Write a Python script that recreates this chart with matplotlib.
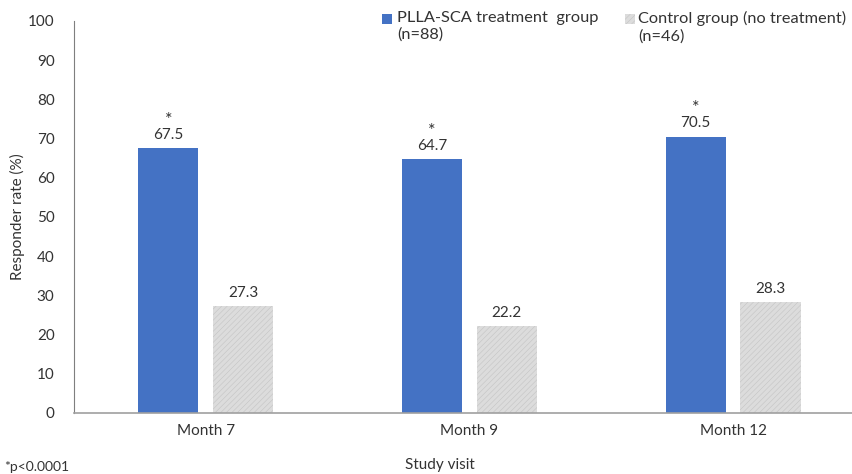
import matplotlib.pyplot as plt
import numpy as np
from matplotlib.patches import Rectangle

plt.rcParams['font.family'] = ['Lato', 'DejaVu Sans']
plt.rcParams['hatch.linewidth'] = 0.4

visits = ['Month 7', 'Month 9', 'Month 12']
plla = [67.5, 64.7, 70.5]
control = [27.3, 22.2, 28.3]
plla_sig = ['*', '*', '*']
yticks = list(range(0, 101, 10))

blue = '#4472C4'
grey = '#DCDCDC'
txt = '#333333'

fig = plt.figure(figsize=(8.53, 4.74), dpi=100)
ax = fig.add_axes([74 / 853, 61 / 474, 779 / 853, 392 / 474])

x = np.arange(len(visits))
off = 0.142
w = 0.228
ax.bar(x - off, plla, w, color=blue, linewidth=0)
ax.bar(x + off, control, w, color=grey, edgecolor='#C4C4C4', hatch='//////', linewidth=0)

# value labels
for xi, v, s in zip(x, plla, plla_sig):
    ax.text(xi - off, v + 1.6, f'{v}', ha='center', va='bottom', fontsize=11, color=txt)
    ax.text(xi - off, v + 5.2, s, ha='center', va='bottom', fontsize=13, color=txt)
for xi, v in zip(x, control):
    ax.text(xi + off, v + 1.6, f'{v}', ha='center', va='bottom', fontsize=11, color=txt)

ax.set_xlim(-0.5, 2.455)
ax.set_ylim(0, 100)
ax.set_yticks(yticks)
ax.set_xticks(x)
ax.set_xticklabels(visits)
ax.tick_params(axis='both', length=0, labelsize=11, colors=txt)
ax.tick_params(axis='y', pad=14)
ax.tick_params(axis='x', pad=8)
for sp in ['top', 'right']:
    ax.spines[sp].set_visible(False)
ax.spines['left'].set_color('#7F7F7F')
ax.spines['bottom'].set_color('#A0A0A0')
ax.spines['bottom'].set_linewidth(1.2)

fig.text(440 / 853, 1 - 465 / 474, 'Study visit', ha='center', va='center', fontsize=11, color=txt)
fig.text(17 / 853, 1 - 217 / 474, 'Responder rate (%)', ha='center', va='center',
         rotation=90, fontsize=11, color=txt)
fig.text(4 / 853, 1 / 474, '*p<0.0001', ha='left', va='bottom', fontsize=10, color=txt)

# legend drawn manually
fig.add_artist(Rectangle((382 / 853, 1 - 24 / 474), 10 / 853, 10 / 474,
                         transform=fig.transFigure, color=blue, linewidth=0))
fig.text(397 / 853, 1 - 11 / 474, 'PLLA-SCA treatment  group\n(n=88)', ha='left', va='top',
         fontsize=11.8, color=txt, linespacing=1.25)
fig.add_artist(Rectangle((625 / 853, 1 - 24 / 474), 10 / 853, 10 / 474,
                         transform=fig.transFigure, facecolor=grey, edgecolor='#C4C4C4',
                         hatch='//////', linewidth=0))
fig.text(638 / 853, 1 - 11 / 474, 'Control group (no treatment)\n(n=46)', ha='left', va='top',
         fontsize=11.8, color=txt, linespacing=1.25)

fig.savefig('out.png', dpi=100)
